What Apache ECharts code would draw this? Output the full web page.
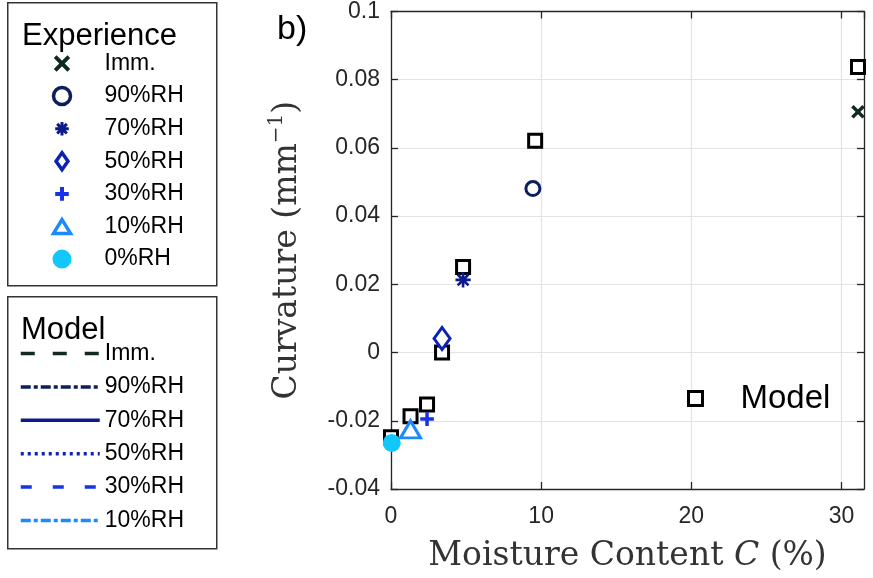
<!DOCTYPE html>
<html><head><meta charset="utf-8">
<script src="https://cdn.jsdelivr.net/npm/echarts@6/dist/echarts.min.js"></script>
<style>html,body{margin:0;padding:0;background:#fff}#c{width:873px;height:578px}</style>
</head><body><div id="c"></div>
<script>
// ---- data ----
const expNames = ['Imm.', '90%RH', '70%RH', '50%RH', '30%RH', '10%RH', '0%RH'];
const expX = [31.1, 9.45, 4.8, 3.4, 2.4, 1.3, 0.05];
const expY = [0.0706, 0.0481, 0.0213, 0.0041, -0.0195, -0.0225, -0.0265];
const modelX = [0, 1.3, 2.4, 3.4, 4.8, 9.6, 31.1];
const modelY = [-0.0248, -0.0187, -0.0152, 0.0, 0.0251, 0.0621, 0.0837];
const modelLineNames = ['Imm.', '90%RH', '70%RH', '50%RH', '30%RH', '10%RH'];
const xMin = 0, xMax = 31.5, xStep = 10;
const yMin = -0.04, yMax = 0.1, yStep = 0.02;

// ---- styles ----
const colors = ['#0e2a22', '#0b1f5e', '#0d1a8c', '#0b22b4', '#1832e6', '#1e88ff', '#12c8f8'];
const pad = 'M-2,-2L-2,-2M18,18L18,18';
const symbols = [
  'path://' + pad + 'M0,0L16,16M16,0L0,16',
  'circle',
  'path://' + pad + 'M8,0L8,16M0,8L16,8M2.3,2.3L13.7,13.7M13.7,2.3L2.3,13.7',
  'path://M7,0L14,10L7,20L0,10Z',
  'path://' + pad + 'M8,0L8,16M0,8L16,8',
  'path://M11,0L22,18L0,18Z',
  'circle'
];
const sizes = [14, 14, 19, [16, 22], 17, [20, 17], 18];
const fills = [null, '#fff', null, '#fff', null, '#fff', null];
const bws = [3.5, 3, 2.6, 3, 3.5, 3, 0];
const legBws = [4, 3.5, 3, 3.5, 4, 3.5, 2];
const dashTypes = [[14, 18], [10, 3, 4, 3], 'solid', [3, 4], [11, 21], [10, 3, 4, 3]];

const series = [];
series.push({
  name: 'Model', type: 'scatter', clip: false, z: 2,
  symbol: 'rect', symbolSize: 13,
  itemStyle: { color: '#fff', borderColor: '#000', borderWidth: 3, opacity: 1 },
  data: modelX.map((x, i) => [x, modelY[i]])
});
expNames.forEach((n, i) => {
  series.push({
    name: n, type: 'scatter', clip: false, z: 3,
    symbol: symbols[i], symbolSize: sizes[i],
    itemStyle: { color: fills[i] || colors[i], borderColor: colors[i], borderWidth: bws[i], opacity: 1 },
    data: [[expX[i], expY[i]]]
  });
});
modelLineNames.forEach((n, i) => {
  series.push({
    name: n + ' (model)', type: 'line', symbol: 'none',
    lineStyle: { color: colors[i], width: 3.5, type: dashTypes[i] },
    itemStyle: { color: colors[i] },
    data: []
  });
});

const axisColor = '#262626';
const tickFont = { fontFamily: 'Liberation Sans', fontSize: 23, color: '#262626' };
const serif = 'DejaVu Serif';
const legFont = { fontFamily: 'Liberation Sans', fontSize: 23, color: '#000' };

const option = {
  animation: false,
  backgroundColor: '#fff',
  grid: { left: 391, right: 9, top: 9, bottom: 89 },
  xAxis: [{
    type: 'value', min: xMin, max: xMax, interval: xStep,
    axisLine: { show: true, onZero: false, lineStyle: { color: axisColor, width: 1.3 } },
    axisTick: { show: true, inside: true, length: 7, lineStyle: { color: axisColor, width: 1.3 } },
    axisLabel: Object.assign({ margin: 16, showMaxLabel: false,
      formatter: v => (v % 10 === 0 ? String(v) : '') }, tickFont),
    splitLine: { show: true, lineStyle: { color: '#e3e3e3', width: 1.2 } },
    name: '{a|Moisture Content }{i|C}{a| (%)}',
    nameLocation: 'middle', nameGap: 51,
    nameTextStyle: { rich: {
      a: { fontFamily: serif, fontSize: 33, color: '#333' },
      i: { fontFamily: serif, fontSize: 33, fontStyle: 'italic', color: '#333' }
    } }
  }, {
    type: 'value', position: 'top', min: xMin, max: xMax, interval: xStep,
    axisLine: { show: true, onZero: false, lineStyle: { color: axisColor, width: 1.3 } },
    axisTick: { show: true, inside: true, length: 7, lineStyle: { color: axisColor, width: 1.3 } },
    axisLabel: { show: false }, splitLine: { show: false }
  }],
  yAxis: [{
    type: 'value', min: yMin, max: yMax, interval: yStep,
    axisLine: { show: true, onZero: false, lineStyle: { color: axisColor, width: 1.3 } },
    axisTick: { show: true, inside: true, length: 7, lineStyle: { color: axisColor, width: 1.3 } },
    axisLabel: Object.assign({ margin: 11,
      formatter: v => String(Math.round(v * 100) / 100) }, tickFont),
    splitLine: { show: true, lineStyle: { color: '#e3e3e3', width: 1.2 } },
    name: '{a|Curvature (mm}{s|−1}{a|)}',
    nameLocation: 'middle', nameGap: 84, nameRotate: 90,
    nameTextStyle: { rich: {
      a: { fontFamily: serif, fontSize: 33, color: '#333', lineHeight: 40 },
      s: { fontFamily: serif, fontSize: 20, color: '#333', verticalAlign: 'top', lineHeight: 40 }
    } }
  }, {
    type: 'value', position: 'right', min: yMin, max: yMax, interval: yStep,
    axisLine: { show: true, onZero: false, lineStyle: { color: axisColor, width: 1.3 } },
    axisTick: { show: true, inside: true, length: 7, lineStyle: { color: axisColor, width: 1.3 } },
    axisLabel: { show: false }, splitLine: { show: false }
  }],
  legend: [{
    orient: 'vertical', left: 51.5, top: 52, padding: 0,
    itemWidth: 17, itemHeight: 17, itemGap: 9.6,
    data: expNames.map((n, i) => ({ name: n, itemStyle: { borderWidth: legBws[i] } })),
    textStyle: Object.assign({ padding: [0, 0, 0, 29] }, legFont),
    selectedMode: false
  }, {
    orient: 'vertical', left: 19, top: 342, padding: 0,
    itemWidth: 79, itemHeight: 18, itemGap: 10.4,
    data: modelLineNames.map(n => n + ' (model)'),
    formatter: n => n.replace(' (model)', ''),
    itemStyle: { color: 'rgba(0,0,0,0)', borderColor: 'rgba(0,0,0,0)', borderWidth: 0 },
    lineStyle: { width: 3.5 },
    textStyle: legFont,
    selectedMode: false
  }, {
    orient: 'vertical', left: 687, top: 382, padding: 0,
    itemWidth: 14, itemHeight: 14,
    data: [{ name: 'Model', itemStyle: { borderWidth: 3 } }],
    textStyle: { fontFamily: 'Liberation Sans', fontSize: 33, color: '#000', padding: [0, 0, 0, 33] },
    selectedMode: false
  }],
  graphic: [
    { type: 'rect', left: 7, top: 2, shape: { width: 209, height: 283 },
      style: { fill: '#fff', stroke: '#333', lineWidth: 1.5 }, z: -10 },
    { type: 'rect', left: 7, top: 296, shape: { width: 209, height: 252 },
      style: { fill: '#fff', stroke: '#333', lineWidth: 1.5 }, z: -10 },
    { type: 'text', left: 22, top: 21,
      style: { text: 'Experience', font: '31px "Liberation Sans"', fill: '#000' } },
    { type: 'text', left: 21, top: 315,
      style: { text: 'Model', font: '31px "Liberation Sans"', fill: '#000' } },
    { type: 'text', left: 277, top: 13,
      style: { text: 'b)', font: '34px "Liberation Sans"', fill: '#000' } }
  ],
  series: series
};
const chart = echarts.init(document.getElementById('c'), null, { renderer: 'canvas' });
chart.setOption(option);
</script></body></html>
